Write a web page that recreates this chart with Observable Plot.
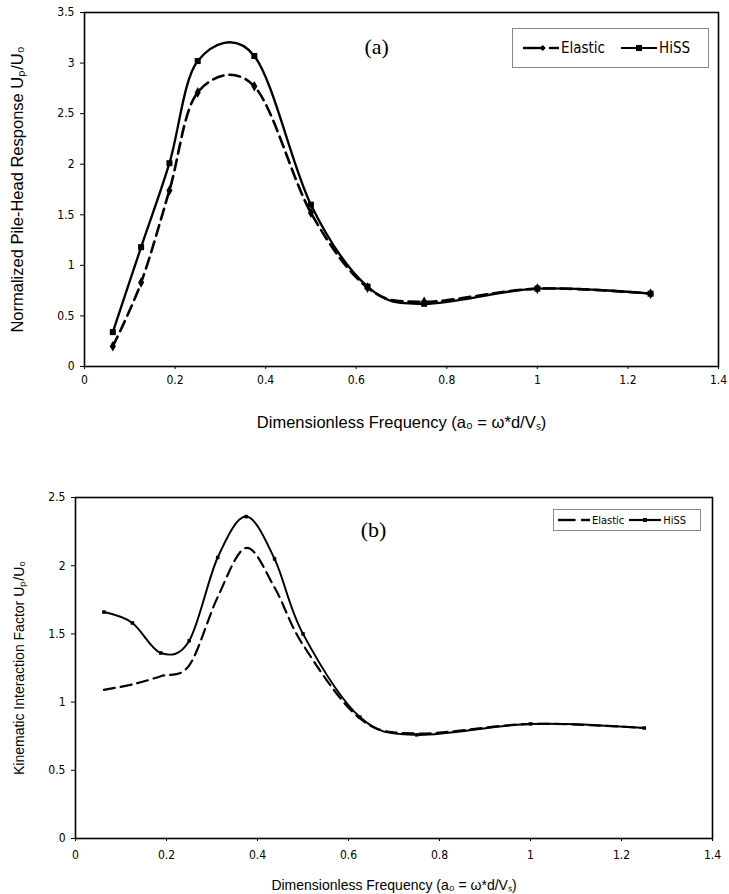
<!DOCTYPE html>
<html><head><meta charset="utf-8">
<script src="https://cdn.jsdelivr.net/npm/d3@7"></script>
<script src="https://cdn.jsdelivr.net/npm/@observablehq/plot@0.6"></script>
<style>
body{margin:0;background:#fff;width:729px;height:894px;overflow:hidden;font-family:"Liberation Sans",Arial,sans-serif;color:#000}
.panel{position:relative;width:729px}
.legend{position:absolute;border:1px solid #888;background:#fff;display:flex;align-items:center;box-sizing:border-box;white-space:nowrap}
.legend span{display:inline-block}
.legend svg{display:inline-block;vertical-align:middle}
</style></head><body>
<div id="pa" class="panel"></div>
<div id="pb" class="panel"></div>
<script>
// ---- data ----
const freqA = [0.0625, 0.125, 0.1875, 0.25, 0.375, 0.5, 0.625, 0.75, 1.0, 1.25];
const elasticA = [0.20, 0.83, 1.74, 2.71, 2.77, 1.52, 0.78, 0.64, 0.77, 0.72];
const hissA    = [0.34, 1.18, 2.01, 3.02, 3.07, 1.60, 0.79, 0.62, 0.77, 0.72];
const freqB = [0.0625, 0.125, 0.1875, 0.25, 0.3125, 0.375, 0.4375, 0.5, 0.625, 0.75, 1.0, 1.25];
const elasticB = [1.09, 1.13, 1.19, 1.27, 1.77, 2.13, 1.84, 1.42, 0.88, 0.77, 0.84, 0.81];
const hissB    = [1.66, 1.58, 1.36, 1.45, 2.06, 2.36, 2.05, 1.50, 0.89, 0.76, 0.84, 0.81];
const xTicks = [0, 0.2, 0.4, 0.6, 0.8, 1, 1.2, 1.4];
const yTicksA = [0, 0.5, 1, 1.5, 2, 2.5, 3, 3.5];
const yTicksB = [0, 0.5, 1, 1.5, 2, 2.5];
const seriesNames = ["Elastic", "HiSS"];
const xTitle = "Dimensionless Frequency (a\u2080 = \u03c9*d/V\u209b)";
const yTitleA = "Normalized Pile-Head Response U\u209a/U\u2080";
const yTitleB = "Kinematic Interaction Factor U\u209a/U\u2080";
const panelLabelA = [{x: 0.645, y: 3.16, t: "(a)"}];
const panelLabelB = [{x: 0.655, y: 2.26, t: "(b)"}];

const rows = (xs, ys) => xs.map((x, i) => ({x, y: ys[i]}));
const fmt = d => String(d);
const sansN = "'Liberation Sans Narrow','DejaVu Sans Condensed','Liberation Sans',sans-serif";

function makePanel(o) {
  return Plot.plot({
    width: 729, height: o.height,
    marginLeft: o.ml, marginRight: o.mr, marginTop: o.mt, marginBottom: o.mb,
    style: {fontFamily: sansN, fontSize: o.tickFont + "px", color: "#000", background: "#fff", overflow: "visible"},
    x: {domain: [0, 1.4]},
    y: {domain: o.yDomain},
    marks: [
      Plot.axisX({ticks: xTicks, tickFormat: fmt, tickSize: 3, tickPadding: o.xPad, label: null, fontSize: o.tickFont, stroke: "#000"}),
      Plot.axisY({ticks: o.yTicks, tickFormat: fmt, tickSize: 4, tickPadding: 6, label: null, fontSize: o.tickFont, stroke: "#000"}),
      Plot.frame({stroke: "#000", strokeWidth: o.frameW}),
      Plot.text([xTitle], {frameAnchor: "bottom", textAnchor: "middle", lineAnchor: "middle", dy: o.xTitleDy, fontSize: o.titleFont, fontFamily: "'Liberation Sans',sans-serif", fill: "#000"}),
      Plot.text([o.yTitle], {frameAnchor: "left", textAnchor: "middle", lineAnchor: "middle", rotate: -90, dx: -o.yTitleDx, fontSize: o.titleFont, fontFamily: "'Liberation Sans',sans-serif", fill: "#000"}),
      Plot.line(rows(o.freq, o.elastic), {x: "x", y: "y", curve: "cardinal", tension: 0, stroke: "#000", strokeWidth: o.lineW, strokeDasharray: o.dash}),
      Plot.line(rows(o.freq, o.hiss), {x: "x", y: "y", curve: "cardinal", tension: 0, stroke: "#000", strokeWidth: o.lineW * 0.9}),
      Plot.dot(rows(o.freq, o.elastic), {x: "x", y: "y", symbol: "diamond", r: o.rE, fill: "#000"}),
      Plot.dot(rows(o.freq, o.hiss), {x: "x", y: "y", symbol: "square", r: o.rH, fill: "#000"}),
      Plot.text(o.label, {x: "x", y: "y", text: "t", fontFamily: "'Liberation Serif',serif", fontSize: 22, fill: "#000"})
    ]
  });
}

const A = makePanel({height: 440, ml: 84, mr: 11, mt: 12, mb: 74, yDomain: [0, 3.5], yTicks: yTicksA,
  freq: freqA, elastic: elasticA, hiss: hissA, label: panelLabelA, yTitle: yTitleA,
  tickFont: 12, titleFont: 16.5, xPad: 6, xTitleDy: 56, yTitleDx: 67, lineW: 2.6, dash: "11,6", rE: 3.2, rH: 3.4, frameW: 1.6});
document.getElementById("pa").appendChild(A);

const B = makePanel({height: 454, ml: 75, mr: 17, mt: 57, mb: 56, yDomain: [0, 2.5], yTicks: yTicksB,
  freq: freqB, elastic: elasticB, hiss: hissB, label: panelLabelB, yTitle: yTitleB,
  tickFont: 12, titleFont: 14, xPad: 9, xTitleDy: 47, yTitleDx: 56, lineW: 2.2, dash: "11,6", rE: 0, rH: 2.0, frameW: 1.6});
document.getElementById("pb").appendChild(B);

// ---- legends ----
function swatch(w, dashed, marker, size) {
  const h = 12, cy = 6;
  let s = `<svg width="${w}" height="${h}">`;
  if (dashed) {
    s += `<line x1="0" y1="${cy}" x2="${w*0.55}" y2="${cy}" stroke="#000" stroke-width="2.4"/>`;
    s += `<line x1="${w*0.72}" y1="${cy}" x2="${w}" y2="${cy}" stroke="#000" stroke-width="2.4"/>`;
    if (marker) s += `<path d="M${w*0.55-size},${cy} L${w*0.55},${cy-size} L${w*0.55+size},${cy} L${w*0.55},${cy+size}Z" fill="#000"/>`;
  } else {
    s += `<line x1="0" y1="${cy}" x2="${w}" y2="${cy}" stroke="#000" stroke-width="2.2"/>`;
    s += `<rect x="${w/2-size}" y="${cy-size}" width="${size*2}" height="${size*2}" fill="#000"/>`;
  }
  return s + `</svg>`;
}
function legend(parent, o) {
  const d = document.createElement("div");
  d.className = "legend";
  Object.assign(d.style, {left: o.left + "px", top: o.top + "px", width: o.w + "px", height: o.h + "px", paddingLeft: o.pl + "px", fontSize: o.fs + "px", fontFamily: sansN});
  d.innerHTML = `${swatch(o.sw, true, o.marker, o.ms)}<span style="margin-left:2px">${seriesNames[0]}</span>` +
    `<span style="width:${o.gap}px"></span>${swatch(o.sw, false, true, o.ms)}<span style="margin-left:2px">${seriesNames[1]}</span>`;
  parent.appendChild(d);
}
legend(document.getElementById("pa"), {left: 512, top: 28, w: 197, h: 40, pl: 10, fs: 15, sw: 36, gap: 16, marker: true, ms: 3});
legend(document.getElementById("pb"), {left: 553, top: 69, w: 148, h: 22, pl: 4, fs: 11, sw: 32, gap: 5, marker: false, ms: 2});
</script>
</body></html>
